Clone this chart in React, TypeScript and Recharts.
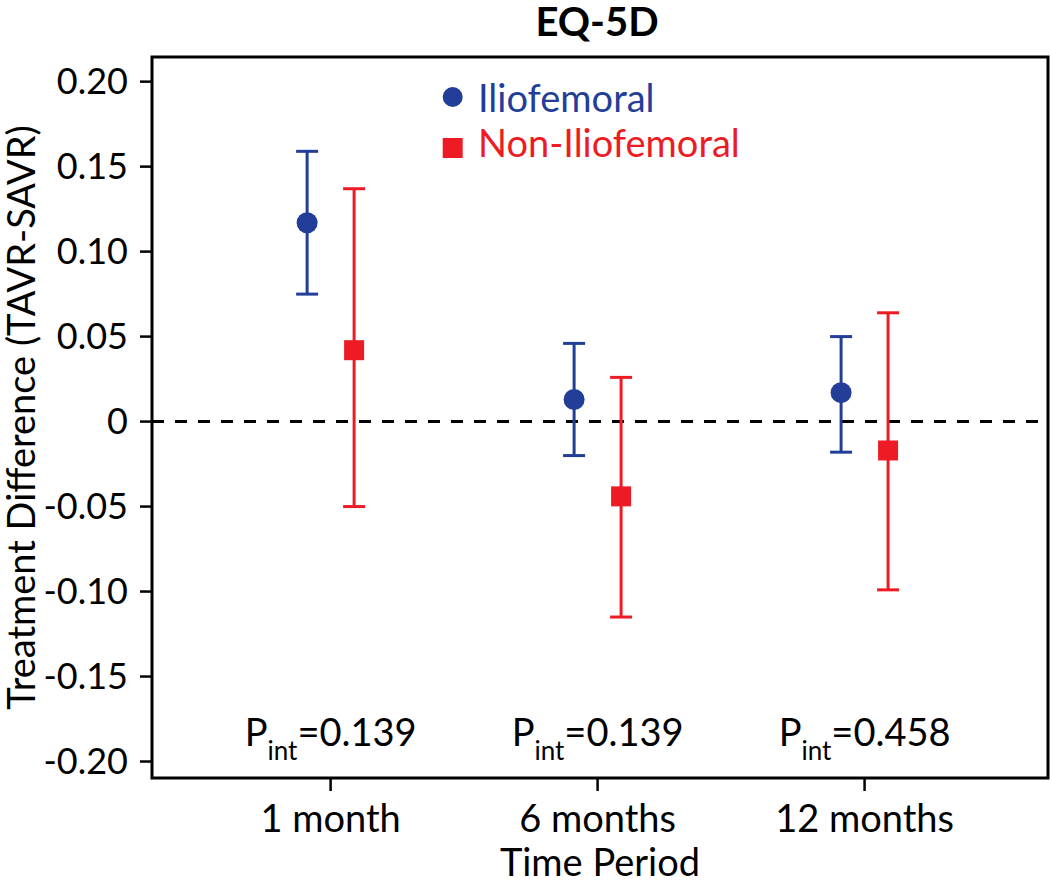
import React from 'react';
import {
  ComposedChart,
  Scatter,
  XAxis,
  YAxis,
  ErrorBar,
  ReferenceLine,
  ReferenceArea,
  ReferenceDot,
  Legend,
  Customized,
} from 'recharts';

// ---- data ----
const categories = ['1 month', '6 months', '12 months'];
const categoryIndex = [1, 2, 3];
const ilioMean = [0.117, 0.013, 0.017];
const ilioLower = [0.075, -0.02, -0.018];
const ilioUpper = [0.159, 0.046, 0.05];
const nonIlioMean = [0.042, -0.044, -0.017];
const nonIlioLower = [-0.05, -0.115, -0.099];
const nonIlioUpper = [0.137, 0.026, 0.064];
const pInteraction = ['0.139', '0.139', '0.458'];
const yTicks = [-0.2, -0.15, -0.1, -0.05, 0, 0.05, 0.1, 0.15, 0.2];
const seriesNames = ['Iliofemoral', 'Non-Iliofemoral'];

// ---- style / layout constants ----
const BLUE = '#233e98';
const RED = '#ed1c24';
const FONT = 'Lato, "Open Sans", sans-serif';
const OFFSET = 0.088;
const X_DOMAIN: [number, number] = [0.331, 3.687];
const Y_DOMAIN: [number, number] = [-0.2097, 0.2145];
const P_LABEL_Y = -0.1909;

const ilioData = categoryIndex.map((c, i) => ({
  x: c - OFFSET,
  y: ilioMean[i],
  err: [ilioMean[i] - ilioLower[i], ilioUpper[i] - ilioMean[i]],
}));
const nonIlioData = categoryIndex.map((c, i) => ({
  x: c + OFFSET,
  y: nonIlioMean[i],
  err: [nonIlioMean[i] - nonIlioLower[i], nonIlioUpper[i] - nonIlioMean[i]],
}));

const CircleShape = (p: any) => <circle cx={p.cx} cy={p.cy} r={10.5} fill={BLUE} />;
const SquareShape = (p: any) => (
  <rect x={p.cx - 10} y={p.cy - 10} width={20} height={20} fill={RED} />
);

const fmtY = (v: number) => (Math.abs(v) < 1e-9 ? '0' : v.toFixed(2));
const fmtX = (v: number) => {
  const i = categoryIndex.indexOf(v);
  return i >= 0 ? categories[i] : '';
};

const Title = () => (
  <text x={597} y={36} textAnchor="middle" fontFamily={FONT} fontWeight="bold" fontSize={40} fill="#000">
    EQ-5D
  </text>
);

const LegendContent = () => (
  <svg width={1050} height={881} style={{ position: 'absolute', left: 0, top: 0, overflow: 'visible' }}>
    <circle cx={452.7} cy={97} r={10} fill={BLUE} />
    <text x={478} y={112} fontFamily={FONT} fontSize={38} fill={BLUE}>
      {seriesNames[0]}
    </text>
    <rect x={442.7} y={138} width={20} height={20} fill={RED} />
    <text x={478} y={157} fontFamily={FONT} fontSize={38} fill={RED}>
      {seriesNames[1]}
    </text>
  </svg>
);

const YLabel = (props: any) => {
  const vb = props.viewBox || {};
  const cy = vb.y + vb.height / 2;
  const cx = 20;
  return (
    <text
      x={cx}
      y={cy}
      transform={`rotate(-90, ${cx}, ${cy})`}
      textAnchor="middle"
      dominantBaseline="central"
      fontFamily={FONT}
      fontSize={38}
      fill="#000"
    >
      Treatment Difference (TAVR-SAVR)
    </text>
  );
};

const XLabel = (props: any) => {
  const vb = props.viewBox || {};
  return (
    <text x={vb.x + vb.width / 2} y={876} textAnchor="middle" fontFamily={FONT} fontSize={38} fill="#000">
      Time Period
    </text>
  );
};

const makePLabel = (value: string) => (p: any) => (
  <text x={p.cx} y={p.cy} textAnchor="middle" fontFamily={FONT} fill="#000" fontSize={38}>
    P
    <tspan fontSize={26} dy={14}>int</tspan>
    <tspan fontSize={38} dy={-14}>={value}</tspan>
  </text>
);

export default function App() {
  return (
    <div style={{ position: 'absolute', left: 0, top: 0, width: 1050, height: 881, background: '#fff' }}>
      <ComposedChart
        width={1050}
        height={881}
        margin={{ top: 57, right: 2, bottom: 13, left: 42 }}
      >
        <XAxis
          type="number"
          dataKey="x"
          domain={X_DOMAIN}
          allowDataOverflow
          ticks={categoryIndex}
          tickFormatter={fmtX}
          axisLine={false}
          tickLine={{ stroke: '#000', strokeWidth: 2.5 }}
          tickSize={13}
          tickMargin={14}
          height={90}
          tick={{ fill: '#000', fontSize: 38, fontFamily: FONT }}
          interval={0}
          label={<XLabel />}
        />
        <YAxis
          type="number"
          dataKey="y"
          domain={Y_DOMAIN}
          allowDataOverflow
          ticks={yTicks}
          tickFormatter={fmtY}
          axisLine={false}
          tickLine={{ stroke: '#000', strokeWidth: 2.5 }}
          tickSize={12}
          tickMargin={12}
          width={110}
          tick={{ fill: '#000', fontSize: 36, fontFamily: FONT }}
          interval={0}
          label={<YLabel />}
        />
        <ReferenceArea
          x1={X_DOMAIN[0]}
          x2={X_DOMAIN[1]}
          y1={Y_DOMAIN[0]}
          y2={Y_DOMAIN[1]}
          fill="none"
          fillOpacity={0}
          stroke="#000"
          strokeWidth={3}
          ifOverflow="visible"
        />
        <ReferenceLine y={0} stroke="#000" strokeWidth={3} strokeDasharray="12 11" />
        <Scatter
          name={seriesNames[0]}
          data={ilioData}
          fill={BLUE}
          shape={CircleShape}
          isAnimationActive={false}
        >
          <ErrorBar dataKey="err" direction="y" width={11} stroke={BLUE} strokeWidth={3} isAnimationActive={false} />
        </Scatter>
        <Scatter
          name={seriesNames[1]}
          data={nonIlioData}
          fill={RED}
          shape={SquareShape}
          isAnimationActive={false}
        >
          <ErrorBar dataKey="err" direction="y" width={11} stroke={RED} strokeWidth={3} isAnimationActive={false} />
        </Scatter>
        {categoryIndex.map((c, i) => (
          <ReferenceDot
            key={c}
            x={c}
            y={P_LABEL_Y}
            r={0}
            ifOverflow="visible"
            shape={makePLabel(pInteraction[i])}
          />
        ))}
        <Customized component={Title} />
        <Legend
          layout="vertical"
          align="center"
          verticalAlign="middle"
          content={<LegendContent />}
          wrapperStyle={{ position: 'absolute', left: 0, top: 0, width: 1050, height: 0, overflow: 'visible', pointerEvents: 'none' }}
        />
      </ComposedChart>
    </div>
  );
}
